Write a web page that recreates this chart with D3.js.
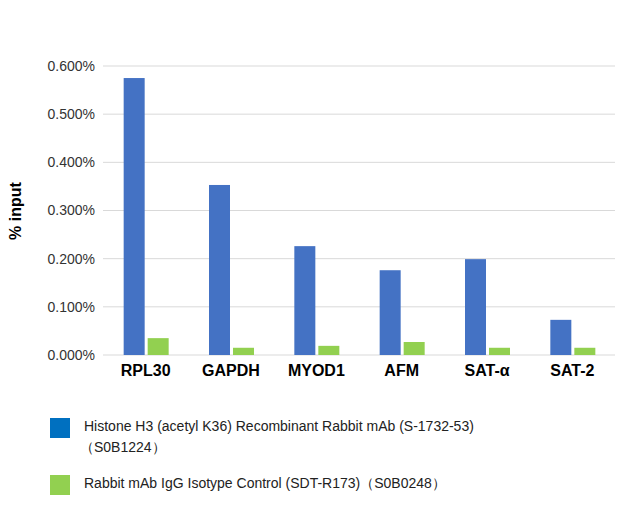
<!DOCTYPE html>
<html><head><meta charset="utf-8">
<script src="https://cdn.jsdelivr.net/npm/d3@7"></script>
<style>body{margin:0;background:#fff;font-family:Arial,"Liberation Sans",sans-serif}</style>
</head><body><div></div>
<script>
const categories = ['RPL30', 'GAPDH', 'MYOD1', 'AFM', 'SAT-α', 'SAT-2'];
const histoneValues = [0.575, 0.353, 0.226, 0.176, 0.199, 0.073];
const iggValues = [0.035, 0.015, 0.019, 0.027, 0.015, 0.015];
const yTicks = [0, 0.1, 0.2, 0.3, 0.4, 0.5, 0.6];
const seriesNames = ['Histone H3 (acetyl K36) Recombinant Rabbit mAb (S-1732-53)', 'Rabbit mAb IgG Isotype Control (SDT-R173)\uFF08S0B0248\uFF09'];
const colors = ['#4472c4', '#92d050'];

const svg = d3.select('div').append('svg').attr('width', 625).attr('height', 526);
const x = d3.scaleBand().domain(categories).range([103, 615]);
const y = d3.scaleLinear().domain([0, 0.6]).range([355, 66]);

// grid
svg.append('g').selectAll('line').data(yTicks).join('line')
    .attr('x1', 103).attr('x2', 615)
    .attr('y1', d => y(d)).attr('y2', d => y(d))
    .attr('stroke', '#d9d9d9');

const yAxis = svg.append('g').attr('transform', 'translate(103,0)')
    .call(d3.axisLeft(y).tickValues(yTicks).tickSize(0).tickPadding(8).tickFormat(d => d.toFixed(3) + '%'));
yAxis.select('.domain').remove();
yAxis.selectAll('text').attr('font-size', 14).attr('fill', '#333').attr('font-family', 'Arial,Liberation Sans');

const xAxis = svg.append('g').attr('transform', 'translate(0,355)')
    .call(d3.axisBottom(x).tickSize(0).tickPadding(10));
xAxis.select('.domain').remove();
xAxis.selectAll('text').attr('font-size', 16).attr('font-weight', 'bold').attr('fill', '#000').attr('font-family', 'Arial,Liberation Sans');

svg.append('text').attr('transform', 'translate(21,211) rotate(-90)')
    .attr('text-anchor', 'middle').attr('font-size', 16).attr('font-weight', 'bold').text('% input');

const bw = 21;
[histoneValues, iggValues].forEach((vals, i) => {
    svg.append('g').selectAll('rect').data(vals).join('rect')
        .attr('x', (d, j) => x(categories[j]) + x.bandwidth() / 2 - bw - 1 + i * (bw + 3))
        .attr('y', d => y(d)).attr('width', bw).attr('height', d => y(0) - y(d))
        .attr('fill', colors[i]);
});

// legend
const leg = svg.append('g').attr('font-size', 14).attr('fill', '#222');
leg.append('rect').attr('x', 50).attr('y', 418).attr('width', 20).attr('height', 20).attr('fill', '#0070c0');
leg.append('text').attr('x', 84).attr('y', 431).text(seriesNames[0]);
leg.append('text').attr('x', 80).attr('y', 452).text('\uFF08S0B1224\uFF09');
leg.append('rect').attr('x', 50).attr('y', 475).attr('width', 20).attr('height', 20).attr('fill', colors[1]);
leg.append('text').attr('x', 84).attr('y', 488).text(seriesNames[1]);
</script></body></html>
